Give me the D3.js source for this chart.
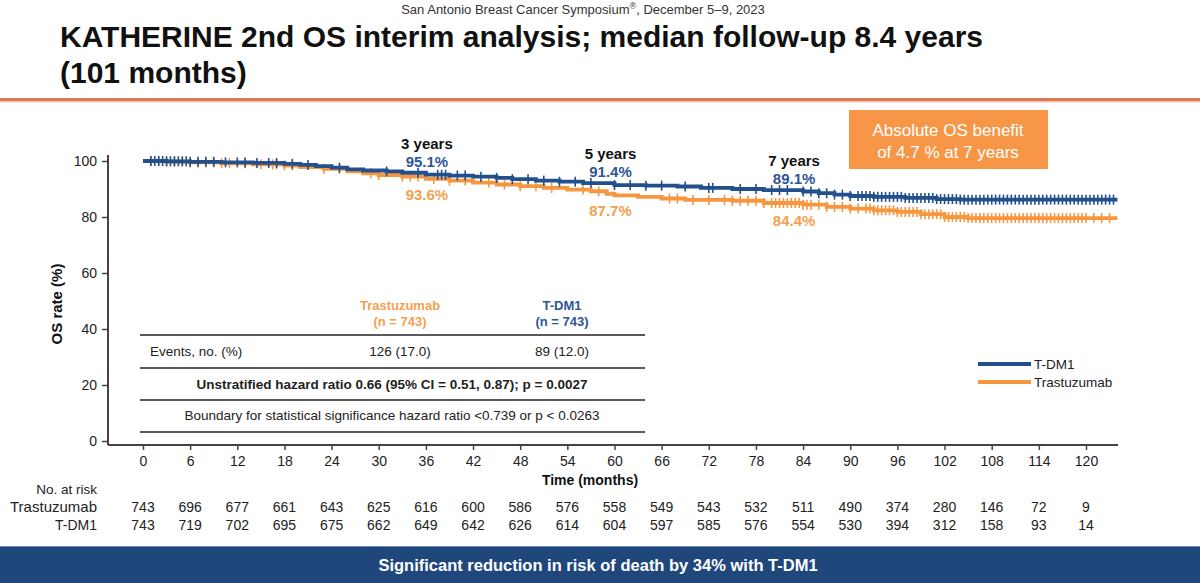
<!DOCTYPE html>
<html><head><meta charset="utf-8">
<script src="https://cdn.jsdelivr.net/npm/d3@7"></script>
<style>
html,body{margin:0;padding:0;background:#fff;}
svg{display:block;font-family:"Liberation Sans",Arial,sans-serif;}
</style></head>
<body>
<svg id="c" width="1200" height="583"></svg>
<script>
// ---------- data ----------
const xTicks = [0,6,12,18,24,30,36,42,48,54,60,66,72,78,84,90,96,102,108,114,120];
const yTicks = [0,20,40,60,80,100];
const riskTrastuzumab = [743,696,677,661,643,625,616,600,586,576,558,549,543,532,511,490,374,280,146,72,9];
const riskTDM1 = [743,719,702,695,675,662,649,642,626,614,604,597,585,576,554,530,394,312,158,93,14];
// KM steps [month, OS %]
const kmTDM1 = [[0,100],[3,99.9],[6,99.7],[10,99.5],[14,99.3],[18,99.0],[20,98.6],[22,98.2],[24,97.6],[26,97.0],[28,96.6],[31,96.3],[33,95.8],[36,95.1],[39,94.8],[42,94.4],[45,94.0],[47,93.5],[50,93.0],[53,92.6],[56,92.1],[60,91.4],[64,91.2],[68,90.9],[71,90.4],[75,90.0],[79,89.6],[84,89.1],[86,88.5],[88,88.0],[90,87.5],[93,87.2],[97,86.8],[101,86.4],[104,86.2],[124,86.2]];
const kmTrastuzumab = [[0,100],[3,99.8],[6,99.5],[10,99.2],[14,98.8],[18,98.4],[20,97.8],[23,97.2],[26,96.3],[28,95.6],[30,95.0],[33,94.4],[36,93.6],[39,93.0],[42,92.3],[45,91.6],[48,91.0],[51,90.4],[54,89.8],[57,89.2],[59,88.3],[60,87.7],[63,87.2],[66,86.6],[69,86.1],[75,85.8],[79,85.0],[84,84.4],[87,83.6],[90,83.0],[93,82.4],[96,81.8],[99,81.0],[102,80.0],[105,79.6],[124,79.6]];
// censoring times (months)
const censTDM1 = [1,1.5,2,2.5,3,3.5,4,4.5,5,5.5,6,7,8,9,10.5,12,13,14.5,16,17,19,21,25,31,35,37.5,38,38.5,40,41,43,45,47,49,51,53,55,57,60,62,64,66,69,72,72.5,76,78,80,81,82,84,85,86,87,88,89,90,91,91.5,92,92.5,93,93.5,94,94.5,95,95.5,96,96.5,97,97.5,98,98.5,99,99.5,100,100.5,101,101.5,102,102.5,103,103.5,104,104.5,105,105.5,106,106.5,107,107.5,108,108.5,109,109.5,110,110.5,111,111.5,112,112.5,113,113.5,114,114.5,115,115.5,116,116.5,117,117.5,118,118.5,119,119.5,120,120.5,121,121.5,122,122.5,123,123.5];
const censTrastuzumab = [1,2,3,4,5,6,7,8,9,10,11,13,15,16.5,17,18,19,23,25,29,30,33,34,35,37,39,41,44,46,48,50,52,56,58,67,68,70,72,74,75,76,77,78,79,80,80.5,81,81.5,82,82.5,83,83.5,84,84.5,85,86,87,88,89,90,91,92,92.5,93,93.5,94,94.5,95,95.5,96,96.5,97,97.5,98,98.5,99,99.5,100,100.5,101,101.5,102,102.5,103,103.5,104,104.5,105,105.5,106,106.5,107,107.5,108,108.5,109,109.5,110,110.5,111,111.5,112,112.5,113,113.5,114,114.5,115,115.5,116,116.5,117,117.5,118,118.5,119,119.5,120,121,122,123];
const milestoneMonths = [36,60,84];
const milestoneLabels = ["3 years","5 years","7 years"];
const milestoneTDM1 = ["95.1%","91.4%","89.1%"];
const milestoneTrastuzumab = ["93.6%","87.7%","84.4%"];

// ---------- drawing ----------
const BLUE = "#23508c", ORANGE = "#f7963f", TXTBLUE="#2e5597", TXTOR="#f5a04f";
const FONT = "Liberation Sans, Arial, sans-serif";
const svg = d3.select("#c");
const x = d3.scaleLinear().domain([0,120]).range([143,1086]);
const y = d3.scaleLinear().domain([0,100]).range([441,161]);

// header
const hdr = svg.append("text").attr("x",583).attr("y",14).attr("text-anchor","middle").attr("font-size",13).attr("fill","#333");
hdr.append("tspan").text("San Antonio Breast Cancer Symposium");
hdr.append("tspan").attr("font-size",9).attr("dy",-5).text("®");
hdr.append("tspan").attr("dy",5).text(", December 5–9, 2023");
svg.append("text").attr("x",60).attr("y",47).attr("font-size",30).attr("font-weight","bold").attr("fill","#111")
  .text("KATHERINE 2nd OS interim analysis; median follow-up 8.4 years");
svg.append("text").attr("x",60).attr("y",83).attr("font-size",30).attr("font-weight","bold").attr("fill","#111")
  .text("(101 months)");
svg.append("rect").attr("x",0).attr("y",98).attr("width",1200).attr("height",3).attr("fill","#dd7a55");
svg.append("rect").attr("x",0).attr("y",101).attr("width",1200).attr("height",1.5).attr("fill","#f2c2ad");

// orange box
svg.append("rect").attr("x",849).attr("y",110).attr("width",199).attr("height",59).attr("fill","#f79646");
svg.append("text").attr("x",948).attr("y",136).attr("text-anchor","middle").attr("font-size",17).attr("fill","#fff").text("Absolute OS benefit");
svg.append("text").attr("x",948).attr("y",158).attr("text-anchor","middle").attr("font-size",17).attr("fill","#fff").text("of 4.7 % at 7 years");

// axes
const gy = svg.append("g").attr("transform","translate(108,0)")
  .call(d3.axisLeft(y).tickValues(yTicks).tickSize(6).tickPadding(5));
gy.select(".domain").attr("d","M0,155V445").attr("stroke","#444").attr("stroke-width",2);
gy.selectAll(".tick line").attr("stroke","#444").attr("stroke-width",1.5);
gy.selectAll(".tick text").attr("font-size",14).attr("fill","#222").attr("font-family",FONT);

const gx = svg.append("g").attr("transform","translate(0,445)")
  .call(d3.axisBottom(x).tickValues(xTicks).tickSize(5).tickPadding(6));
gx.select(".domain").attr("d","M108,0H1118").attr("stroke","#444").attr("stroke-width",2);
gx.selectAll(".tick line").attr("stroke","#444").attr("stroke-width",1.5);
gx.selectAll(".tick text").attr("font-size",14).attr("fill","#222").attr("font-family",FONT);

svg.append("text").attr("transform","translate(62,304) rotate(-90)").attr("text-anchor","middle")
  .attr("font-size",15).attr("font-weight","bold").attr("fill","#111").text("OS rate (%)");
svg.append("text").attr("x",590).attr("y",485).attr("text-anchor","middle")
  .attr("font-size",14).attr("font-weight","bold").attr("fill","#111").text("Time (months)");

// KM curves
const line = d3.line().x(d=>x(d[0])).y(d=>y(d[1])).curve(d3.curveStepAfter);
function survAt(data,t){let v=data[0][1];for(const d of data){if(d[0]<=t)v=d[1];else break;}return v;}
function drawKM(data,cens,color){
  svg.append("path").datum(data).attr("d",line).attr("fill","none").attr("stroke",color).attr("stroke-width",3.8);
  svg.append("g").selectAll("line").data(cens).join("line")
    .attr("x1",d=>x(d)).attr("x2",d=>x(d))
    .attr("y1",d=>y(survAt(data,d))-5).attr("y2",d=>y(survAt(data,d))+5)
    .attr("stroke",color).attr("stroke-width",1.6);
}
drawKM(kmTrastuzumab,censTrastuzumab,ORANGE);
drawKM(kmTDM1,censTDM1,BLUE);

// milestone labels (horizontal offsets in px, layout only)
const labelDx = [1,-4,-9];
milestoneMonths.forEach((m,i)=>{
  const cx = x(m)+labelDx[i];
  const yt = y(survAt(kmTDM1,m)), yr = y(survAt(kmTrastuzumab,m));
  svg.append("text").attr("x",cx).attr("y",yt-26).attr("text-anchor","middle").attr("font-size",15).attr("font-weight","bold").attr("fill","#111").text(milestoneLabels[i]);
  svg.append("text").attr("x",cx).attr("y",yt-8).attr("text-anchor","middle").attr("font-size",15).attr("font-weight","bold").attr("fill",TXTBLUE).text(milestoneTDM1[i]);
  svg.append("text").attr("x",cx).attr("y",yr+21).attr("text-anchor","middle").attr("font-size",15).attr("font-weight","bold").attr("fill",TXTOR).text(milestoneTrastuzumab[i]);
});

// embedded table
const tb = svg.append("g").attr("font-size",13.5).attr("fill","#222");
[335,368,400,432].forEach(yy=>tb.append("line").attr("x1",140).attr("x2",645).attr("y1",yy).attr("y2",yy).attr("stroke","#222").attr("stroke-width",1.6));
tb.append("text").attr("x",400).attr("y",310).attr("font-size",13).attr("text-anchor","middle").attr("font-weight","bold").attr("fill",TXTOR).text("Trastuzumab");
tb.append("text").attr("x",400).attr("y",326).attr("font-size",13).attr("text-anchor","middle").attr("font-weight","bold").attr("fill",TXTOR).text("(n = 743)");
tb.append("text").attr("x",562).attr("y",310).attr("font-size",13).attr("text-anchor","middle").attr("font-weight","bold").attr("fill",TXTBLUE).text("T-DM1");
tb.append("text").attr("x",562).attr("y",326).attr("font-size",13).attr("text-anchor","middle").attr("font-weight","bold").attr("fill",TXTBLUE).text("(n = 743)");
tb.append("text").attr("x",150).attr("y",356).text("Events, no. (%)");
tb.append("text").attr("x",400).attr("y",356).attr("text-anchor","middle").text("126 (17.0)");
tb.append("text").attr("x",562).attr("y",356).attr("text-anchor","middle").text("89 (12.0)");
tb.append("text").attr("x",392).attr("y",389).attr("text-anchor","middle").attr("font-weight","bold").text("Unstratified hazard ratio 0.66 (95% CI = 0.51, 0.87); p = 0.0027");
tb.append("text").attr("x",392).attr("y",420).attr("text-anchor","middle").text("Boundary for statistical significance hazard ratio <0.739 or p < 0.0263");

// legend
const lg = svg.append("g");
[["T-DM1",BLUE,364],["Trastuzumab",ORANGE,382]].forEach(([t,c,yy])=>{
  lg.append("line").attr("x1",978).attr("x2",1031).attr("y1",yy).attr("y2",yy).attr("stroke",c).attr("stroke-width",4);
  lg.append("text").attr("x",1034).attr("y",yy+5).attr("font-size",13.5).attr("fill","#222").text(t);
});

// at-risk table
const rk = svg.append("g").attr("font-size",14).attr("fill","#222");
rk.append("text").attr("x",97).attr("y",494).attr("font-size",13.5).attr("text-anchor","end").text("No. at risk");
rk.append("text").attr("x",97).attr("y",512).attr("font-size",15).attr("text-anchor","end").text("Trastuzumab");
rk.append("text").attr("x",97).attr("y",530).attr("font-size",14).attr("text-anchor","end").text("T-DM1");
rk.selectAll(".r1").data(riskTrastuzumab).join("text").attr("x",(d,i)=>x(xTicks[i])).attr("y",512).attr("text-anchor","middle").text(d=>d);
rk.selectAll(".r2").data(riskTDM1).join("text").attr("x",(d,i)=>x(xTicks[i])).attr("y",530).attr("text-anchor","middle").text(d=>d);

// bottom banner
svg.append("rect").attr("x",0).attr("y",546).attr("width",1200).attr("height",37).attr("fill","#1f477c");
svg.append("rect").attr("x",0).attr("y",546).attr("width",1200).attr("height",1).attr("fill","#6d8bb3");
svg.append("text").attr("x",598).attr("y",571).attr("text-anchor","middle").attr("font-size",16.5).attr("font-weight","bold").attr("fill","#fff")
  .text("Significant reduction in risk of death by 34% with T-DM1");
</script>
</body></html>
